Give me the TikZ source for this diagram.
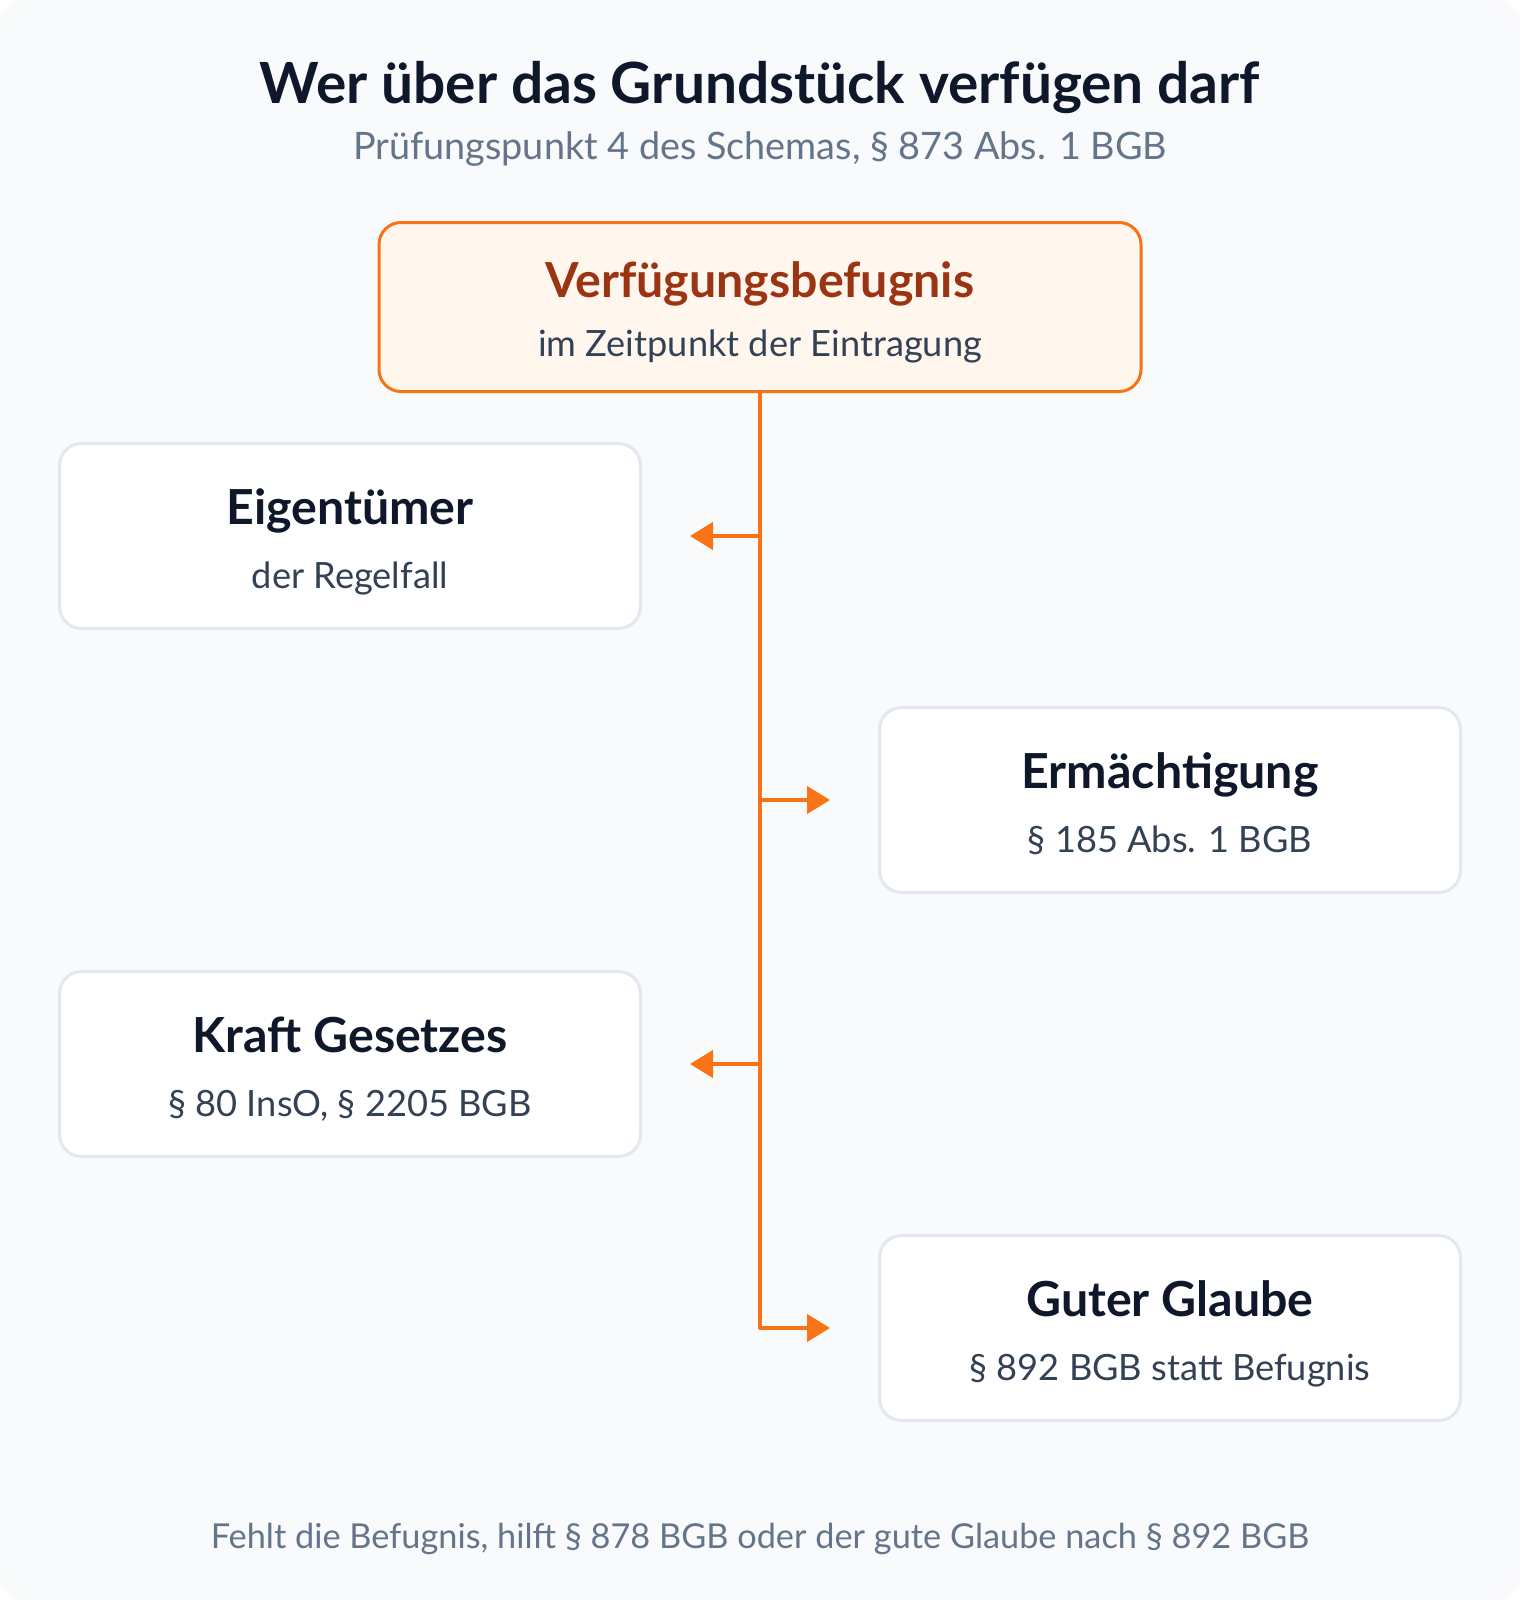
\documentclass[tikz,border=0pt]{standalone}
\usepackage{fontspec}
\setmainfont{Lato}
\usetikzlibrary{arrows.meta}
\definecolor{ink}{HTML}{0F172A}
\definecolor{slate}{HTML}{334155}
\definecolor{muted}{HTML}{64748B}
\definecolor{rule}{HTML}{E2E8F0}
\definecolor{paper}{HTML}{F8FAFC}
\definecolor{accent}{HTML}{F97316}
\definecolor{rust}{HTML}{9A3412}
\definecolor{cream}{HTML}{FFF7ED}

\begin{document}
\begin{tikzpicture}[x=1pt, y=-1pt,
    card/.style={draw=rule, line width=3pt, fill=white, rounded corners=22pt,
        minimum width=581pt, minimum height=185pt, inner sep=0pt},
    rootcard/.style={draw=accent, line width=3pt, fill=cream, rounded corners=22pt,
        minimum width=762pt, minimum height=169pt, inner sep=0pt},
    head/.style={anchor=base, inner sep=0pt, text=ink, font=\fontsize{48.3}{56}\selectfont\bfseries},
    sub/.style={anchor=base, inner sep=0pt, text=slate, font=\fontsize{36.2}{42}\selectfont},
    flow/.style={draw=accent, line width=4pt, line join=round, shorten >=48pt,
        -{Triangle[length=23pt,width=27pt]}}]

    % background
    \fill[white] (0,0) rectangle (1520,1600);
    \fill[paper, rounded corners=24pt] (0,0) rectangle (1520,1600);
    \useasboundingbox (0,0) rectangle (1520,1600);

    % heading
    \node[anchor=base, text=ink, font=\fontsize{56.8}{64}\selectfont\bfseries] at (760,104) (title) {Wer über das Grundstück verfügen darf};
    \node[anchor=base, text=muted, font=\fontsize{37.8}{44}\selectfont] at (760,159) (subtitle) {Prüfungspunkt 4 des Schemas, § 873 Abs. 1 BGB};

    % root
    \node[rootcard] at (760,307) (root) {};
    \node[head, text=rust] at ([yshift=10pt]root.center) (root-head) {Verfügungsbefugnis};
    \node[sub] at ([yshift=-49pt]root.center) (root-sub) {im Zeitpunkt der Eintragung};

    % cards
    \node[card] at (350,536) (eigen) {};
    \node[head] at ([yshift=12pt]eigen.center) (eigen-head) {Eigentümer};
    \node[sub] at ([yshift=-52pt]eigen.center) (eigen-sub) {der Regelfall};

    \node[card] at (1170,800) (ermaech) {};
    \node[head] at ([yshift=12pt]ermaech.center) (ermaech-head) {Ermächtigung};
    \node[sub] at ([yshift=-52pt]ermaech.center) (ermaech-sub) {§ 185 Abs. 1 BGB};

    \node[card] at (350,1064) (kraft) {};
    \node[head] at ([yshift=12pt]kraft.center) (kraft-head) {Kraft Gesetzes};
    \node[sub] at ([yshift=-52pt]kraft.center) (kraft-sub) {§ 80 InsO, § 2205 BGB};

    \node[card] at (1170,1328) (glaube) {};
    \node[head] at ([yshift=12pt]glaube.center) (glaube-head) {Guter Glaube};
    \node[sub] at ([yshift=-52pt]glaube.center) (glaube-sub) {§ 892 BGB statt Befugnis};

    % trunk and branches
    \draw[flow] (root.south) |- (glaube.west);
    \draw[flow] (root.south |- eigen.east) -- (eigen.east);
    \draw[flow] (root.south |- ermaech.west) -- (ermaech.west);
    \draw[flow] (root.south |- kraft.east) -- (kraft.east);

    % footer
    \node[anchor=base, text=muted, font=\fontsize{34.3}{40}\selectfont] at (760,1548) (footer) {Fehlt die Befugnis, hilft § 878 BGB oder der gute Glaube nach § 892 BGB};
\end{tikzpicture}
\end{document}
